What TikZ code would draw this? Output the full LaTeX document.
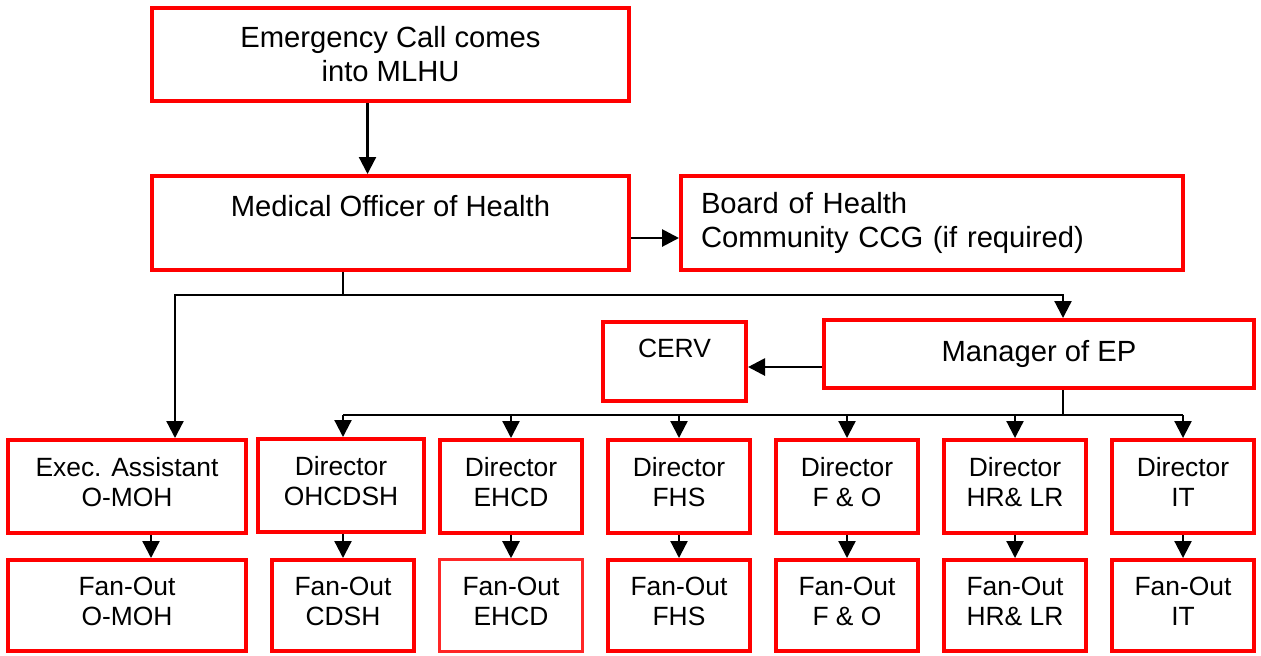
\documentclass[tikz,border=0pt]{standalone}
\usepackage{fontspec}
\setmainfont{Liberation Sans}
\usepackage{xcolor}
\usepackage{tikz}
\usetikzlibrary{calc,arrows.meta}
\definecolor{boxred}{HTML}{FF0000}
\definecolor{ink}{HTML}{000000}
\tikzset{
  box/.style={draw=boxred, line width=2pt, align=center, inner sep=0pt},
  thinbox/.style={box, draw=boxred!85, line width=1.3pt},
  bigtxt/.style={font=\fontsize{14.6}{17}\selectfont},
  smalltxt/.style={font=\fontsize{13.2}{15}\selectfont,
    execute at begin node=\strut, execute at end node=\strut},
  conn/.style={draw=ink, line width=1.1pt},
  arr/.style={conn, -{Triangle[length=8.5pt,width=8.5pt]}},
  arrb/.style={arr, line width=1.4pt}
}
\begin{document}
\begin{tikzpicture}[x=0.5pt,y=-0.5pt]
  \useasboundingbox (0,0) rectangle (1261,655);
  \node[box,bigtxt,minimum width=238.5pt,minimum height=46.5pt] (em) at (390.5,54.5) {Emergency Call comes\\into MLHU};
  \node[box,bigtxt,minimum width=238.5pt,minimum height=47pt] (moh) at (390.5,223) {Medical Officer of Health\\};
  \node[box,bigtxt,align=left,text width=231pt,inner xsep=10pt,minimum height=47pt] (board) at (932,223) {Board of Health\\Community CCG (if required)};
  \node[box,smalltxt,minimum width=71.5pt,minimum height=39.5pt] (cerv) at (674.5,361.5) {CERV\\[-6pt]};
  \node[box,bigtxt,minimum width=215pt,minimum height=34pt] (mgr) at (1039,354) {Manager of EP};
  \node[box,smalltxt,minimum width=119pt,minimum height=46.5pt] (exec) at (127,486.5) {Exec. Assistant\\O-MOH};
  \node[box,smalltxt,minimum width=83pt,minimum height=46.5pt] (ohc) at (341,485.5) {Director\\OHCDSH};
  \node[box,smalltxt,minimum width=71pt,minimum height=46.5pt] (ehcd) at (511,486.5) {Director\\EHCD};
  \node[box,smalltxt,minimum width=71pt,minimum height=46.5pt] (fhs) at (679,486.5) {Director\\FHS};
  \node[box,smalltxt,minimum width=71pt,minimum height=46.5pt] (fo) at (847,486.5) {Director\\F \& O};
  \node[box,smalltxt,minimum width=71pt,minimum height=46.5pt] (hr) at (1015,486.5) {Director\\HR\& LR};
  \node[box,smalltxt,minimum width=71pt,minimum height=46.5pt] (it) at (1183,486.5) {Director\\IT};
  \node[box,smalltxt,minimum width=119pt,minimum height=45.5pt] (fmoh) at (127,605.5) {Fan-Out\\O-MOH};
  \node[box,smalltxt,minimum width=71pt,minimum height=45.5pt] (fcdsh) at (343,605.5) {Fan-Out\\CDSH};
  \node[thinbox,smalltxt,minimum width=71.5pt,minimum height=46pt] (fehcd) at (511,605.5) {Fan-Out\\EHCD};
  \node[box,smalltxt,minimum width=71pt,minimum height=45.5pt] (ffhs) at (679,605.5) {Fan-Out\\FHS};
  \node[box,smalltxt,minimum width=71pt,minimum height=45.5pt] (ffo) at (847,605.5) {Fan-Out\\F \& O};
  \node[box,smalltxt,minimum width=71pt,minimum height=45.5pt] (fhr) at (1015,605.5) {Fan-Out\\HR\& LR};
  \node[box,smalltxt,minimum width=71pt,minimum height=45.5pt] (fit) at (1183,605.5) {Fan-Out\\IT};
  \coordinate (t1) at (343,295);
  \coordinate (t2) at (1063,415);
  \draw[arr] ($(em.south)+(-23,0)$) -- ($(moh.north)+(-23,0)$);
  \draw[arrb] ($(moh.east)+(0,15)$) -- ($(board.west)+(0,15)$);
  \draw[conn] (t1 |- moh.south) -- (t1);
  \draw[arr] (t1) -| ($(exec.north)+(48,0)$);
  \draw[arr] (t1) -| ($(mgr.north)+(24,0)$);
  \draw[arrb] ($(mgr.west)+(0,13)$) -- ($(cerv.east)+(0,5.5)$);
  \draw[conn] (t2 |- mgr.south) -- (t2);
  \draw[conn] (fcdsh.north |- t2) -- (it.north |- t2);
  \draw[arr] (fcdsh.north |- t2) -- (fcdsh.north |- ohc.north);
  \draw[arr] (ehcd.north |- t2) -- (ehcd.north);
  \draw[arr] (fhs.north |- t2) -- (fhs.north);
  \draw[arr] (fo.north |- t2) -- (fo.north);
  \draw[arr] (hr.north |- t2) -- (hr.north);
  \draw[arr] (it.north |- t2) -- (it.north);
  \draw[arr] ($(exec.south)+(24,0)$) -- ($(fmoh.north)+(24,0)$);
  \draw[arr] (fcdsh.north |- ohc.south) -- (fcdsh.north);
  \draw[arr] (ehcd) -- (fehcd);
  \draw[arr] (fhs) -- (ffhs);
  \draw[arr] (fo) -- (ffo);
  \draw[arr] (hr) -- (fhr);
  \draw[arr] (it) -- (fit);
\end{tikzpicture}
\end{document}
